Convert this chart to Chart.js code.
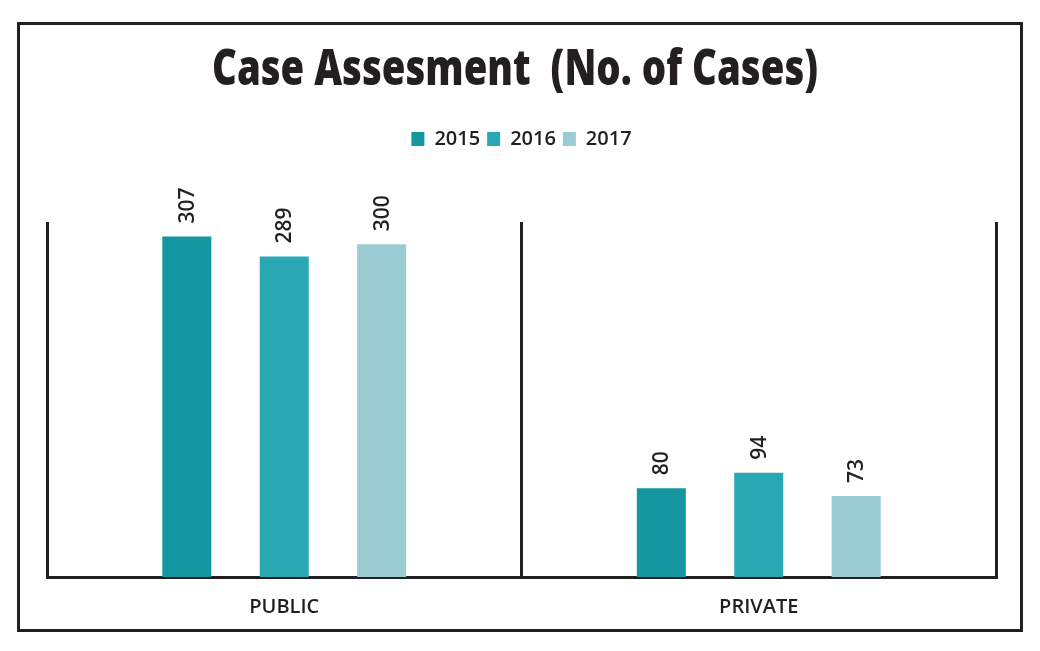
<!DOCTYPE html>
<html>
<head>
<meta charset="utf-8">
<title>Case Assesment</title>
<script src="https://cdn.jsdelivr.net/npm/chart.js"></script>
<style>
    html, body { margin: 0; padding: 0; background: #ffffff; }
    .frame {
        position: absolute;
        left: 17px;
        top: 22px;
        width: 1006px;
        height: 610px;
        box-sizing: border-box;
        border: 3px solid #231f20;
        background: #ffffff;
    }
</style>
</head>
<body>
<div class="frame">
    <canvas id="caseChart"></canvas>
</div>
<script>
// Chart data
const categories = ['PUBLIC', 'PRIVATE'];
const years = ['2015', '2016', '2017'];
const cases2015 = [307, 80];
const cases2016 = [289, 94];
const cases2017 = [300, 73];

const chartTitle = 'Case Assesment  (No. of Cases)';
const textColor = '#231f20';
const barColors = ['#1497a0', '#29a8b4', '#9bcbd3'];

// Condensed heavy title, squeezed horizontally to match the narrow typeface
const condensedTitle = {
    id: 'condensedTitle',
    afterDraw(chart) {
        const ctx = chart.ctx;
        ctx.save();
        ctx.font = '800 49px "Open Sans"';
        ctx.fillStyle = textColor;
        ctx.textAlign = 'center';
        ctx.textBaseline = 'alphabetic';
        const w = ctx.measureText(chartTitle).width;
        const sx = 606 / w;
        ctx.translate(495, 60);
        ctx.scale(sx, 1);
        ctx.fillText(chartTitle, 0, 0);
        ctx.restore();
    }
};

// Draw the value above each bar, turned on its side
const barValueLabels = {
    id: 'barValueLabels',
    afterDatasetsDraw(chart) {
        const ctx = chart.ctx;
        ctx.save();
        ctx.font = '600 21px "Open Sans"';
        ctx.fillStyle = textColor;
        ctx.textAlign = 'left';
        ctx.textBaseline = 'middle';
        chart.data.datasets.forEach((ds, i) => {
            chart.getDatasetMeta(i).data.forEach((bar, j) => {
                ctx.save();
                ctx.translate(bar.x + 1, bar.y - 13);
                ctx.rotate(-Math.PI / 2);
                ctx.fillText(ds.data[j], 0, 0);
                ctx.restore();
            });
        });
        ctx.restore();
    }
};

// Extra room between the legend and the plot
const legendGap = {
    id: 'legendGap',
    beforeInit(chart) {
        const fit = chart.legend.fit;
        chart.legend.fit = function() {
            fit.bind(chart.legend)();
            this.height += 63;
        };
    }
};

new Chart(document.getElementById('caseChart'), {
    type: 'bar',
    data: {
        labels: categories,
        datasets: [
            { label: years[0], data: cases2015, backgroundColor: barColors[0] },
            { label: years[1], data: cases2016, backgroundColor: barColors[1] },
            { label: years[2], data: cases2017, backgroundColor: barColors[2] }
        ]
    },
    options: {
        responsive: true,
        maintainAspectRatio: false,
        animation: false,
        categoryPercentage: 0.616,
        barPercentage: 0.503,
        layout: {
            padding: { left: 27, right: 24, top: 97, bottom: 13 }
        },
        plugins: {
            title: { display: false },
            legend: {
                display: true,
                labels: {
                    color: textColor,
                    font: { family: '"Open Sans", sans-serif', size: 20, weight: 600 },
                    boxWidth: 13,
                    boxHeight: 14,
                    padding: 7
                }
            },
            tooltip: { enabled: false }
        },
        scales: {
            x: {
                afterFit(scale) {
                    scale.height = 39;
                },
                grid: {
                    display: true,
                    offset: true,
                    color: textColor,
                    lineWidth: 3,
                    drawTicks: false
                },
                border: { display: true, color: textColor, width: 3 },
                ticks: {
                    color: textColor,
                    padding: 18,
                    font: { family: '"Open Sans", sans-serif', size: 20, weight: 600 }
                }
            },
            y: {
                display: false,
                min: 0,
                max: 320
            }
        }
    },
    plugins: [barValueLabels, legendGap, condensedTitle]
});
</script>
</body>
</html>
